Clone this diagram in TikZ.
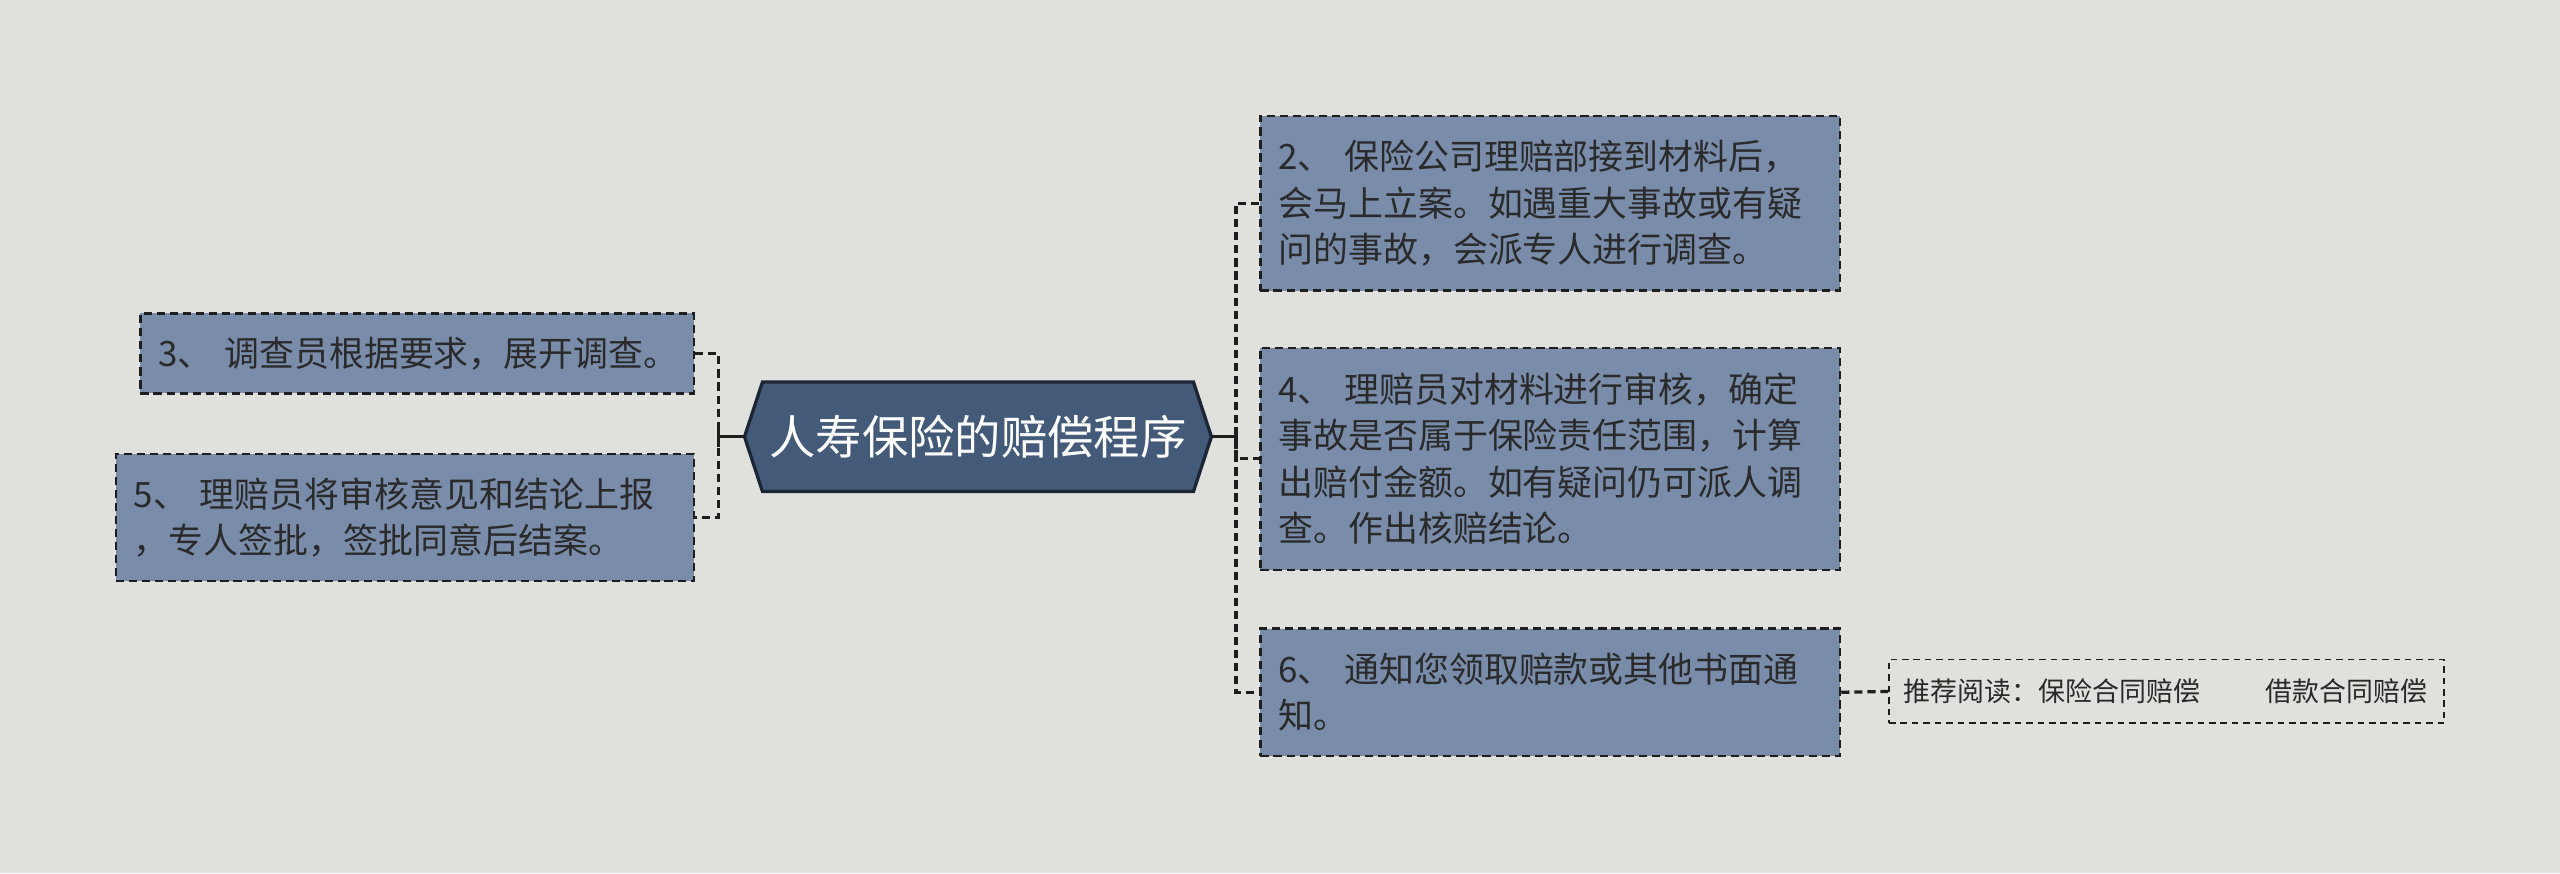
\documentclass[tikz,border=0pt]{standalone}
\usepackage{fontspec}
\newfontfamily\cjk{Noto Sans CJK SC}
\usetikzlibrary{calc}
\definecolor{bgc}{HTML}{E0E1DC}
\definecolor{boxc}{HTML}{798CAA}
\definecolor{rootc}{HTML}{445A79}
\definecolor{rootb}{HTML}{1B2536}
\definecolor{txtc}{HTML}{2A2A2A}
\definecolor{linec}{HTML}{1E1E1E}
\begin{document}
\begin{tikzpicture}[x=1pt,y=-1pt,
  leaf/.style={draw=linec, fill=boxc, line width=1.5pt, dash pattern=on 5pt off 3pt,
    text=txtc, font=\cjk\fontsize{21.4pt}{28.5pt}\selectfont, align=left,
    inner xsep=11pt, inner ysep=0pt, anchor=center},
  rightleaf/.style={leaf, text width=333pt, minimum width=355pt},
  conn/.style={draw=linec, line width=2pt, dash pattern=on 5pt off 3pt},
  solidconn/.style={draw=linec, line width=2pt},
  recbox/.style={draw=linec, line width=1.1pt, dash pattern=on 4pt off 3pt,
    font=\cjk\fontsize{16.5pt}{20pt}\selectfont, text=txtc, align=left,
    inner xsep=9pt, inner ysep=0pt}
  ]
\useasboundingbox (0,0) rectangle (1568,535);
\fill[bgc] (0,0) rectangle (1568,535);

% root hexagon
\filldraw[fill=rootc, draw=rootb, line width=2pt, line join=miter]
  (456,267.5) -- (467,234) -- (731,234) -- (742,267.5) -- (731,301) -- (467,301) -- cycle;
\node[font=\cjk\fontsize{28.4pt}{34pt}\selectfont, text=white, minimum width=286pt,
  minimum height=67pt, inner sep=0pt] (root) at (599,267.5) {人寿保险的赔偿程序};

% right branch
\node[rightleaf, minimum height=107pt] (b2) at (949.5,124.5)
  {2、 保险公司理赔部接到材料后，\\会马上立案。如遇重大事故或有疑\\问的事故，会派专人进行调查。};
\node[rightleaf, minimum height=136pt] (b4) at (949.5,281)
  {4、 理赔员对材料进行审核，确定\\事故是否属于保险责任范围，计算\\出赔付金额。如有疑问仍可派人调\\查。作出核赔结论。};
\node[rightleaf, minimum height=78pt] (b6) at (949.5,424)
  {6、 通知您领取赔款或其他书面通\\知。};

% left branch
\node[leaf, text width=317pt, minimum width=339pt, minimum height=49pt] (b3) at (255.5,216.5)
  {\mbox{3、 调查员根据要求，展开调查。}};
\node[leaf, text width=332pt, minimum width=354pt, minimum height=78pt] (b5) at (248,317)
  {5、 理赔员将审核意见和结论上报\\，专人签批，签批同意后结案。};

% recommendation
\node[recbox, text width=322pt, minimum width=340pt, minimum height=39pt] (rec) at (1327,423.5)
  {推荐阅读：保险合同赔偿\hspace{40pt}借款合同赔偿};

% connectors
\coordinate (lj) at (440,267.5);
\coordinate (rj) at (757,267.5);
\draw[solidconn] (root.west) -- (lj);
\draw[solidconn] ($(lj)+(0,-6)$) -- ($(lj)+(0,6)$);
\draw[conn] (b3.east) -| (lj) |- (b5.east);
\draw[solidconn] (root.east) -- (rj);
\draw[solidconn] ($(rj)+(0,-6)$) -- ($(rj)+(0,6)$);
\draw[conn] (b2.west) -| (rj) |- (b6.west);
\draw[conn] (rj) |- (b4.west);
\draw[conn] (b6.east) -- (rec.west);
\end{tikzpicture}
\end{document}
